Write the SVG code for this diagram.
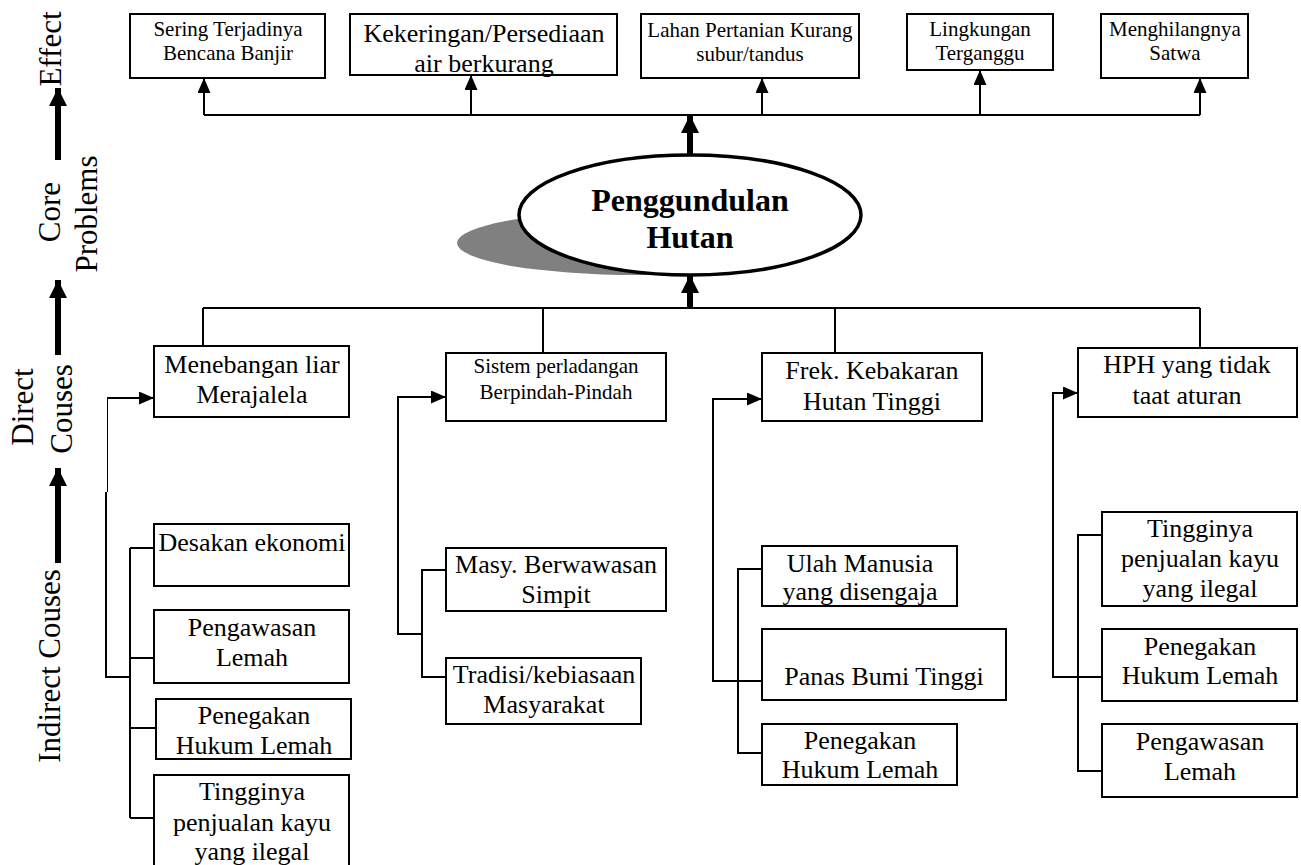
<svg xmlns="http://www.w3.org/2000/svg" width="1301" height="865" viewBox="0 0 1301 865">
<style>
.box{fill:#fff;stroke:#000;stroke-width:2}
.t{font-family:"Liberation Serif","Times New Roman",serif;fill:#000;text-anchor:middle}
.s21{font-size:21px}
.s26{font-size:26px}
.lab{font-size:31px}
.ln{fill:none;stroke:#000;stroke-width:2}
.thick{fill:none;stroke:#000;stroke-width:6}
</style>
<defs>
<marker id="ah" viewBox="0 0 15 13" refX="15" refY="6.5" markerWidth="15" markerHeight="13" orient="auto" markerUnits="userSpaceOnUse"><path d="M0,0 L15,6.5 L0,13 z" fill="#000"/></marker>
<marker id="aht" viewBox="0 0 18 18" refX="18" refY="9" markerWidth="18" markerHeight="18" orient="auto" markerUnits="userSpaceOnUse"><path d="M0,0 L18,9 L0,18 z" fill="#000"/></marker>
</defs>

<g id="axis-labels">
<text class="t lab" transform="translate(61,49) rotate(-90)">Effect</text>
<text class="t lab" transform="translate(60,212) rotate(-90)">Core</text>
<text class="t lab" transform="translate(97,214) rotate(-90)">Problems</text>
<text class="t lab" transform="translate(33,407) rotate(-90)">Direct</text>
<text class="t lab" transform="translate(72,409) rotate(-90)">Couses</text>
<text class="t lab" transform="translate(60,666) rotate(-90)">Indirect Couses</text>
<path class="thick" d="M58,160 V88" marker-end="url(#aht)"/>
<path class="thick" d="M58,355 V280" marker-end="url(#aht)"/>
<path class="thick" d="M58,563 V468" marker-end="url(#aht)"/>
</g>

<g id="connectors">
<path class="thick" d="M690,155 V115" marker-end="url(#aht)"/>
<path class="ln" d="M204,115 H1200"/>
<path class="ln" d="M204,115 V78" marker-end="url(#ah)"/>
<path class="ln" d="M471,115 V75" marker-end="url(#ah)"/>
<path class="ln" d="M762,115 V78" marker-end="url(#ah)"/>
<path class="ln" d="M980,115 V70" marker-end="url(#ah)"/>
<path class="ln" d="M1200,115 V78" marker-end="url(#ah)"/>
<path class="thick" d="M690,308 V275" marker-end="url(#aht)"/>
<path class="ln" d="M203,308 H1200"/>
<path class="ln" d="M203,308 V347"/>
<path class="ln" d="M543,308 V354"/>
<path class="ln" d="M835,308 V354"/>
<path class="ln" d="M1200,308 V349"/>
<!-- column A -->
<path d="M107.5,492 V398" fill="none" stroke="#000" stroke-width="1"/>
<path class="ln" d="M107,398 H154" marker-end="url(#ah)"/>
<path class="ln" d="M106,492 V677 H130"/>
<path class="ln" d="M130,548 V818"/>
<path class="ln" d="M130,548 H154 M130,658 H154 M130,728 H156 M130,818 H154"/>
<!-- column B -->
<path class="ln" d="M446,397 H398 V634 H422"/>
<path class="ln" d="M398,397 H446" marker-end="url(#ah)"/>
<path class="ln" d="M446,570 H422 V677 H446"/>
<!-- column C -->
<path class="ln" d="M762,399 H713 V681 H762"/>
<path class="ln" d="M713,399 H762" marker-end="url(#ah)"/>
<path class="ln" d="M762,569 H738 V753 H762"/>
<!-- column D -->
<path class="ln" d="M1078,393 H1053 V677 H1102"/>
<path class="ln" d="M1053,393 H1078" marker-end="url(#ah)"/>
<path class="ln" d="M1102,535 H1078 V771 H1102"/>
</g>

<g id="effect-1"><rect class="box" x="130" y="14" width="195" height="64"/><text class="t s21" x="228" y="36">Sering Terjadinya</text><text class="t s21" x="228" y="60">Bencana Banjir</text></g>
<g id="effect-2"><rect class="box" x="350" y="14" width="267" height="61"/><text class="t s26" x="484" y="42">Kekeringan/Persediaan</text><text class="t s26" x="484" y="72">air berkurang</text></g>
<g id="effect-3"><rect class="box" x="641" y="14" width="218" height="64"/><text class="t s21" x="750" y="37">Lahan Pertanian Kurang</text><text class="t s21" x="750" y="61">subur/tandus</text></g>
<g id="effect-4"><rect class="box" x="907" y="14" width="146" height="56"/><text class="t s21" x="980" y="36">Lingkungan</text><text class="t s21" x="980" y="60">Terganggu</text></g>
<g id="effect-5"><rect class="box" x="1101" y="14" width="147" height="64"/><text class="t s21" x="1175" y="36">Menghilangnya</text><text class="t s21" x="1175" y="60">Satwa</text></g>

<g id="core">
<ellipse cx="637" cy="243" rx="180" ry="32" fill="#808080"/>
<ellipse cx="690" cy="215" rx="171" ry="60" fill="#fff" stroke="#000" stroke-width="3.5"/>
<text class="t" x="690" y="211" font-size="32" font-weight="bold">Penggundulan</text>
<text class="t" x="690" y="248" font-size="32" font-weight="bold">Hutan</text>
</g>

<g id="direct-a"><rect class="box" x="154" y="346" width="195" height="71"/><text class="t s26" x="252" y="373">Menebangan liar</text><text class="t s26" x="252" y="403">Merajalela</text></g>
<g id="direct-b"><rect class="box" x="446" y="353" width="220" height="68"/><text class="t s21" x="556" y="373">Sistem perladangan</text><text class="t s21" x="556" y="399">Berpindah-Pindah</text></g>
<g id="direct-c"><rect class="box" x="762" y="353" width="220" height="68"/><text class="t s26" x="872" y="379">Frek. Kebakaran</text><text class="t s26" x="872" y="410">Hutan Tinggi</text></g>
<g id="direct-d"><rect class="box" x="1078" y="348" width="219" height="69"/><text class="t s26" x="1187" y="373">HPH yang tidak</text><text class="t s26" x="1187" y="404">taat aturan</text></g>

<g id="ind-a1"><rect class="box" x="154" y="524" width="195" height="62"/><text class="t s26" x="252" y="551">Desakan ekonomi</text></g>
<g id="ind-a2"><rect class="box" x="154" y="610" width="195" height="73"/><text class="t s26" x="252" y="636">Pengawasan</text><text class="t s26" x="252" y="666">Lemah</text></g>
<g id="ind-a3"><rect class="box" x="156" y="699" width="195" height="60"/><text class="t s26" x="254" y="724">Penegakan</text><text class="t s26" x="254" y="754">Hukum Lemah</text></g>
<g id="ind-a4"><rect class="box" x="154" y="775" width="195" height="110"/><text class="t s26" x="252" y="800">Tingginya</text><text class="t s26" x="252" y="831">penjualan kayu</text><text class="t s26" x="252" y="860">yang ilegal</text></g>

<g id="ind-b1"><rect class="box" x="446" y="548" width="220" height="63"/><text class="t s26" x="556" y="573">Masy. Berwawasan</text><text class="t s26" x="556" y="603">Simpit</text></g>
<g id="ind-b2"><rect class="box" x="446" y="658" width="195" height="66"/><text class="t s26" x="544" y="683">Tradisi/kebiasaan</text><text class="t s26" x="544" y="713">Masyarakat</text></g>

<g id="ind-c1"><text class="t s26" x="860" y="572">Ulah Manusia</text><text class="t s26" x="860" y="600">yang disengaja</text><rect x="762" y="546" width="195" height="60" fill="none" stroke="#000" stroke-width="2"/></g>
<g id="ind-c2"><rect class="box" x="762" y="629" width="244" height="71"/><text class="t s26" x="884" y="685">Panas Bumi Tinggi</text></g>
<g id="ind-c3"><rect class="box" x="762" y="724" width="195" height="61"/><text class="t s26" x="860" y="749">Penegakan</text><text class="t s26" x="860" y="778">Hukum Lemah</text></g>

<g id="ind-d1"><rect class="box" x="1102" y="512" width="195" height="94"/><text class="t s26" x="1200" y="537">Tingginya</text><text class="t s26" x="1200" y="567">penjualan kayu</text><text class="t s26" x="1200" y="597">yang ilegal</text></g>
<g id="ind-d2"><rect class="box" x="1102" y="629" width="195" height="72"/><text class="t s26" x="1200" y="655">Penegakan</text><text class="t s26" x="1200" y="684">Hukum Lemah</text></g>
<g id="ind-d3"><rect class="box" x="1102" y="724" width="195" height="73"/><text class="t s26" x="1200" y="750">Pengawasan</text><text class="t s26" x="1200" y="780">Lemah</text></g>
</svg>
